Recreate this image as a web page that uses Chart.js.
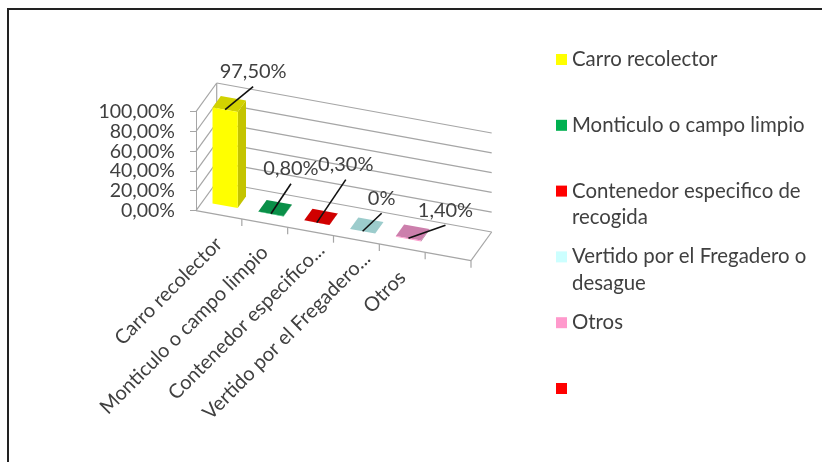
<!DOCTYPE html>
<html>
<head>
<meta charset="utf-8">
<title>Carro recolector</title>
<script src="https://cdn.jsdelivr.net/npm/chart.js@4/dist/chart.umd.min.js"></script>
<style>
  html, body { margin: 0; padding: 0; background: #fff; }
  canvas { display: block; }
</style>
</head>
<body>
<canvas id="grafico" width="822" height="462"></canvas>
<script>
const categorias = ['Carro recolector', 'Monticulo o campo limpio', 'Contenedor especifico...', 'Vertido por el Fregadero...', 'Otros', ''];
const valores = [97.5, 0.8, 0.3, 0, 1.4, null];
const leyenda = [
  ['Carro recolector'],
  ['Monticulo o campo limpio'],
  ['Contenedor especifico de', 'recogida'],
  ['Vertido por el Fregadero o', 'desague'],
  ['Otros'],
  ['']
];

const coloresFrente = ['#ffff00', '#00b050', '#ff0000', '#ccffff', '#ff99cc', '#ff0000'];
const coloresTapa = ['#d2d200', '#0a8f48', '#d00000', '#9ccccc', '#cc7fac', '#d00000'];
const coloresLado = ['#c4c400', '#08753b', '#a80000', '#86b4b4', '#a86a90', '#a80000'];
// desplazamiento de la punta de cada linea guia respecto a la barra
const guiaDx = [28, 20, 29, 19, 37];
const guiaDy = [-23, -30, -43, -18, -13];
// las etiquetas recortadas quedan mas cerca del eje
const ajusteEtiqueta = [0, 0, 15, 15, 0, 0];

const FUENTE = 'Lato, "Open Sans", sans-serif';
const GRIS = '#a6a6a6';
const TEXTO = '#404040';

// proyeccion oblicua: el eje x baja hacia la derecha y la profundidad va hacia atras
const PENDIENTE = 50 / 275;
const FONDO_X = 20.7;
const FONDO_Y = -28.7;
const Z_FRENTE = 0.3;
const Z_ATRAS = 0.7;

function proyectar(chart, px, z, py) {
  return {
    x: px + FONDO_X * z,
    y: py + (px - chart.chartArea.left) * PENDIENTE + FONDO_Y * z
  };
}

function linea(ctx, a, b) {
  ctx.beginPath();
  ctx.moveTo(a.x, a.y);
  ctx.lineTo(b.x, b.y);
  ctx.stroke();
}

function poligono(ctx, puntos, color) {
  ctx.fillStyle = color;
  ctx.beginPath();
  puntos.forEach((p, i) => i ? ctx.lineTo(p.x, p.y) : ctx.moveTo(p.x, p.y));
  ctx.closePath();
  ctx.fill();
}

function formatoValor(v) {
  return v === 0 ? '0%' : v.toFixed(2).replace('.', ',') + '%';
}

const barras3d = {
  id: 'barras3d',

  beforeDraw(chart) {
    const { ctx } = chart;
    ctx.save();
    // marco exterior
    ctx.strokeStyle = '#222';
    ctx.lineWidth = 2;
    ctx.beginPath();
    ctx.moveTo(8, 462);
    ctx.lineTo(8, 9);
    ctx.lineTo(822, 9);
    ctx.stroke();
    ctx.restore();
  },

  // paredes, suelo, caras laterales y tapas
  beforeDatasetsDraw(chart) {
    const { ctx, chartArea } = chart;
    const { y: ey } = chart.scales;
    const izq = chartArea.left;
    const der = chartArea.right;
    ctx.save();
    ctx.strokeStyle = GRIS;
    ctx.lineWidth = 1.2;
    ey.ticks.forEach(t => {
      const py = ey.getPixelForValue(t.value);
      linea(ctx, proyectar(chart, izq, 0, py), proyectar(chart, izq, 1, py));
      linea(ctx, proyectar(chart, izq, 1, py), proyectar(chart, der, 1, py));
    });
    const base = ey.getPixelForValue(0);
    const tope = ey.getPixelForValue(100);
    linea(ctx, proyectar(chart, izq, 1, base), proyectar(chart, izq, 1, tope));
    linea(ctx, proyectar(chart, izq, 0, base), proyectar(chart, der, 0, base));
    linea(ctx, proyectar(chart, der, 0, base), proyectar(chart, der, 1, base));
    // marcas del eje de categorias
    const paso = (der - izq) / categorias.length;
    for (let i = 1; i <= categorias.length; i++) {
      const p = proyectar(chart, izq + paso * i, 0, base);
      linea(ctx, p, { x: p.x, y: p.y + 7 });
    }

    chart.getDatasetMeta(0).data.forEach((barra, i) => {
      if (valores[i] === null) return;
      const { x, y, base: pie, width } = barra.getProps(['x', 'y', 'base', 'width'], true);
      const a = x - width / 2;
      const b = x + width / 2;
      poligono(ctx, [
        proyectar(chart, b, Z_FRENTE, y),
        proyectar(chart, b, Z_ATRAS, y),
        proyectar(chart, b, Z_ATRAS, pie),
        proyectar(chart, b, Z_FRENTE, pie)
      ], coloresLado[i]);
      poligono(ctx, [
        proyectar(chart, a, Z_FRENTE, y),
        proyectar(chart, b, Z_FRENTE, y),
        proyectar(chart, b, Z_ATRAS, y),
        proyectar(chart, a, Z_ATRAS, y)
      ], coloresTapa[i]);
    });
    ctx.restore();

    // la cara frontal la dibuja la propia libreria, inclinada
    ctx.save();
    ctx.transform(1, PENDIENTE, 0, 1, FONDO_X * Z_FRENTE, FONDO_Y * Z_FRENTE - PENDIENTE * izq);
  },

  afterDatasetsDraw(chart) {
    const { ctx } = chart;
    ctx.restore();
    ctx.save();

    // lineas guia y etiquetas de valor
    ctx.font = '20px ' + FUENTE;
    ctx.textAlign = 'center';
    ctx.textBaseline = 'middle';
    chart.getDatasetMeta(0).data.forEach((barra, i) => {
      if (valores[i] === null) return;
      const { x, y } = barra.getProps(['x', 'y'], true);
      const ancla = proyectar(chart, x, Z_FRENTE, y);
      const punta = { x: ancla.x + guiaDx[i], y: ancla.y + guiaDy[i] };
      ctx.strokeStyle = '#111';
      ctx.lineWidth = 1.6;
      linea(ctx, ancla, punta);
      ctx.fillStyle = TEXTO;
      ctx.fillText(formatoValor(valores[i]), punta.x, punta.y - 15);
    });

    // etiquetas de categoria giradas, siguiendo el borde del suelo
    const ex = chart.scales.x;
    const ey = chart.scales.y;
    ctx.textAlign = 'right';
    ctx.font = '20px ' + FUENTE;
    categorias.forEach((nombre, i) => {
      const p = proyectar(chart, ex.getPixelForTick(i), 0, ey.getPixelForValue(0));
      ctx.save();
      ctx.translate(p.x, p.y + 26);
      ctx.rotate(-Math.PI / 4);
      ctx.fillStyle = TEXTO;
      ctx.fillText(nombre, ajusteEtiqueta[i], 0);
      ctx.restore();
    });

    // leyenda
    ctx.textAlign = 'left';
    ctx.font = '20.4px ' + FUENTE;
    leyenda.forEach((lineas, i) => {
      const y = 59.5 + i * 65.8;
      ctx.fillStyle = coloresFrente[i];
      ctx.fillRect(556, y - 5.5, 11, 11);
      ctx.fillStyle = TEXTO;
      lineas.forEach((txt, k) => ctx.fillText(txt, 572, y + k * 26.5));
    });
    ctx.restore();
  }
};

new Chart(document.getElementById('grafico'), {
  type: 'bar',
  data: {
    labels: categorias,
    datasets: [{
      data: valores,
      backgroundColor: coloresFrente,
      borderWidth: 0,
      categoryPercentage: 1,
      barPercentage: 0.55,
      clip: false
    }]
  },
  options: {
    responsive: false,
    animation: false,
    layout: { padding: { left: 66, right: 351, top: 111.7, bottom: 251.3 } },
    plugins: { legend: { display: false }, tooltip: { enabled: false } },
    scales: {
      x: {
        grid: { display: false },
        border: { display: false },
        ticks: { display: false },
        afterFit: s => { s.height = 0; }
      },
      y: {
        min: 0,
        max: 100,
        grid: { drawOnChartArea: false, color: GRIS, tickLength: 6 },
        border: { color: GRIS },
        ticks: {
          stepSize: 20,
          padding: 15,
          autoSkip: false,
          color: TEXTO,
          font: { family: FUENTE, size: 19.5 },
          callback: v => v.toFixed(2).replace('.', ',') + '%'
        },
        afterFit: s => { s.width = 130; }
      }
    }
  },
  plugins: [barras3d]
});
</script>
</body>
</html>
